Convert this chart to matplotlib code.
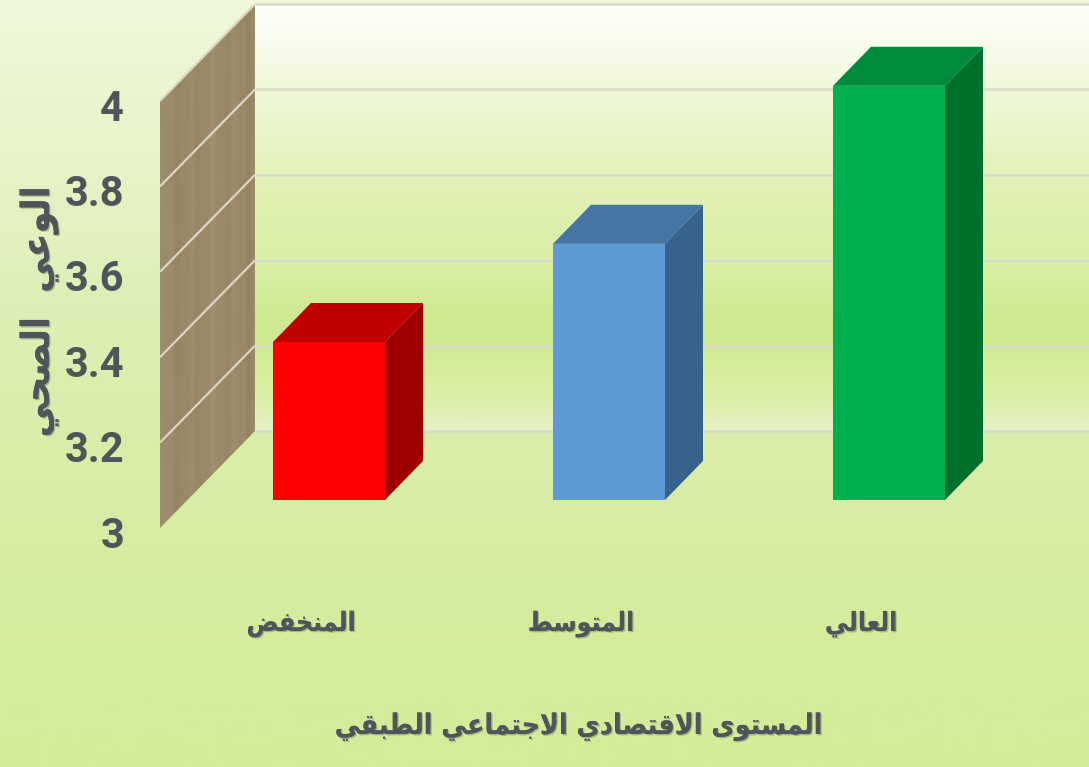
import numpy as np
import matplotlib
matplotlib.use("Agg")
import matplotlib.pyplot as plt
from matplotlib.colors import LinearSegmentedColormap
from matplotlib.patches import Polygon
from matplotlib import patheffects as pe

# ---- chart values ----
category_labels = ["المنخفض", "المتوسط", "العالي"]
awareness = [3.37, 3.60, 3.97]
bar_front = ["#fe0000", "#5b9ad5", "#00b04f"]
bar_top = ["#c00000", "#4575a5", "#008a3c"]
bar_side = ["#9e0000", "#36628b", "#00702f"]
tick_values = [3, 3.2, 3.4, 3.6, 3.8, 4]
tick_labels = ["3", "3.2", "3.4", "3.6", "3.8", "4"]
x_title = "المستوى الاقتصادي الاجتماعي الطبقي"
y_title = "الوعي  الصحي"

W, H = 1089, 767
PX_PER_UNIT = 427.0     # pixels per one unit of the value axis
PX_PER_CAT = 280.0      # pixels between neighbouring categories
FIRST_CAT_PX = 329.0    # pixel column of the first category
BASE_ROW = 500.0        # pixel row of value 3 on the bars' front plane

# Arabic shaping: isolated, final, initial, medial presentation forms
FORMS = {
    "ا": (0xFE8D, 0xFE8E, None, None), "ب": (0xFE8F, 0xFE90, 0xFE91, 0xFE92),
    "ت": (0xFE95, 0xFE96, 0xFE97, 0xFE98), "ج": (0xFE9D, 0xFE9E, 0xFE9F, 0xFEA0),
    "ح": (0xFEA1, 0xFEA2, 0xFEA3, 0xFEA4), "خ": (0xFEA5, 0xFEA6, 0xFEA7, 0xFEA8),
    "د": (0xFEA9, 0xFEAA, None, None), "س": (0xFEB1, 0xFEB2, 0xFEB3, 0xFEB4),
    "ص": (0xFEB9, 0xFEBA, 0xFEBB, 0xFEBC), "ض": (0xFEBD, 0xFEBE, 0xFEBF, 0xFEC0),
    "ط": (0xFEC1, 0xFEC2, 0xFEC3, 0xFEC4), "ع": (0xFEC9, 0xFECA, 0xFECB, 0xFECC),
    "ف": (0xFED1, 0xFED2, 0xFED3, 0xFED4), "ق": (0xFED5, 0xFED6, 0xFED7, 0xFED8),
    "ل": (0xFEDD, 0xFEDE, 0xFEDF, 0xFEE0), "م": (0xFEE1, 0xFEE2, 0xFEE3, 0xFEE4),
    "ن": (0xFEE5, 0xFEE6, 0xFEE7, 0xFEE8), "و": (0xFEED, 0xFEEE, None, None),
    "ى": (0xFEEF, 0xFEF0, None, None), "ي": (0xFEF1, 0xFEF2, 0xFEF3, 0xFEF4),
}


def shape_word(word):
    out = []
    i = 0
    joins_prev = False
    while i < len(word):
        ch = word[i]
        if ch == "ل" and i + 1 < len(word) and word[i + 1] == "ا":
            out.append(chr(0xFEFC if joins_prev else 0xFEFB))
            joins_prev = False
            i += 2
            continue
        iso, fin, ini, med = FORMS[ch]
        joins_next = ini is not None and i + 1 < len(word)
        if joins_prev and joins_next:
            code = med
        elif joins_prev:
            code = fin
        elif joins_next:
            code = ini
        else:
            code = iso
        out.append(chr(code))
        joins_prev = joins_next
        i += 1
    return "".join(out)


def shape(text):
    parts = [shape_word(w) if w else "" for w in text.split(" ")]
    return " ".join(parts)[::-1]


def cat_from_px(px):
    return (px - FIRST_CAT_PX) / PX_PER_CAT


def val_from_row(row):
    return 3 + (BASE_ROW - row) / PX_PER_UNIT


def reset_limits():
    ax.set_xlim(cat_from_px(0), cat_from_px(W))
    ax.set_ylim(val_from_row(H), val_from_row(0))


fig = plt.figure(figsize=(W / 100, H / 100), dpi=100)
ax = fig.add_axes([0, 0, 1, 1])
ax.axis("off")
reset_limits()
extent = (cat_from_px(0), cat_from_px(W), val_from_row(H), val_from_row(0))

# figure backdrop
back_cmap = LinearSegmentedColormap.from_list(
    "backdrop", [(0, "#f0f8dc"), (0.4, "#deefb5"), (0.75, "#d5ec9f"), (1, "#d2ec98")])
ax.imshow(np.linspace(1, 0, 256)[:, None], cmap=back_cmap, extent=extent,
          aspect="auto", origin="lower", zorder=0)

# depth of the box: wall front edge, wall back edge, bar depth
wall_x0, wall_x1 = cat_from_px(160), cat_from_px(255)
wall_front = val_from_row(528) - 3
wall_back = val_from_row(431) - 3
depth_x = 38 / PX_PER_CAT
depth_v = 39 / PX_PER_UNIT

# rear plane, brighter at the top with a saturated band low down
rear_cmap = LinearSegmentedColormap.from_list(
    "rear", [(0, "#e6f0c8"), (0.073, "#dcf0a8"), (0.2, "#cfeb92"), (0.26, "#cdea90"),
             (0.40, "#d9efa5"), (0.60, "#e3f1b8"), (0.80, "#f0f8da"), (1, "#fefffa")])
rear_extent = (wall_x1, cat_from_px(W), 3 + wall_back, 4 + wall_back)
ax.imshow(np.linspace(0, 1, 256)[:, None], cmap=rear_cmap, extent=rear_extent,
          aspect="auto", origin="lower", zorder=1)
reset_limits()

# woven texture of the side wall
ys, xs = np.mgrid[0:440, 0:95]
weave = (0.45 * np.sin(xs * 0.27) + 0.30 * np.sin(xs * 0.61 + 1.0)
         + 0.25 * np.sin(xs * 0.11 + 2.0) + 0.12 * np.sin(ys * 0.9 + xs * 0.5)
         + 0.10 * np.sin(ys * 0.05 + xs * 0.2))
wall_cmap = LinearSegmentedColormap.from_list("wall", ["#93835f", "#a19172"])
wall_poly = Polygon([(wall_x0, 3 + wall_front), (wall_x1, 3 + wall_back),
                     (wall_x1, 4 + wall_back), (wall_x0, 4 + wall_front)],
                    closed=True, transform=ax.transData, fc="none", ec="none")
ax.add_patch(wall_poly)
wall_img = ax.imshow(weave, cmap=wall_cmap, aspect="auto", origin="lower", zorder=2,
                     extent=(wall_x0, wall_x1, 3 + wall_front, 4 + wall_back))
wall_img.set_clip_path(wall_poly)
reset_limits()

# gridlines along the wall and across the rear plane
for v in tick_values:
    if v > 3:
        ax.plot([wall_x0, wall_x1], [v + wall_front, v + wall_back],
                color="#dbd6c4", lw=1.6, zorder=3, solid_capstyle="butt")
    ax.plot([wall_x1, cat_from_px(W)], [v + wall_back] * 2,
            color="#d8dcc8", lw=2.0, zorder=3, solid_capstyle="butt")

# value labels along the front edge of the wall
for v, lab in zip(tick_values, tick_labels):
    ax.text(cat_from_px(124), v + val_from_row(536) - 3, lab, ha="right", va="center",
            family="Roboto", weight="bold", fontsize=30, color="#50555a", zorder=6)

# three-sided bars
half = 0.2
for i, (v, cf, ct, cs) in enumerate(zip(awareness, bar_front, bar_top, bar_side)):
    ax.add_patch(Polygon([(i - half, v), (i + half, v), (i + half + depth_x, v + depth_v),
                          (i - half + depth_x, v + depth_v)], fc=ct, ec="none", zorder=4))
    ax.add_patch(Polygon([(i + half, 3), (i + half + depth_x, 3 + depth_v),
                          (i + half + depth_x, v + depth_v), (i + half, v)],
                         fc=cs, ec="none", zorder=4))
    ax.bar(i, v - 3, bottom=3, width=2 * half, color=cf, zorder=5)
reset_limits()

# Arabic labels with a soft shadow
shadow = [pe.withSimplePatchShadow(offset=(1, -1), shadow_rgbFace="#7c8270", alpha=0.5),
          pe.Normal()]
ar_font = dict(family="DejaVu Sans", stretch="condensed", weight="bold", color="#50555a",
               zorder=6, ha="center", va="center")
for i, lab in enumerate(category_labels):
    t = ax.text(i - 0.1, val_from_row(624), shape(lab), fontsize=19, **ar_font)
    t.set_path_effects(shadow)
t = ax.text(cat_from_px(579), val_from_row(727), shape(x_title), fontsize=20.4, **ar_font)
t.set_path_effects(shadow)
t = ax.text(cat_from_px(39), val_from_row(312), shape(y_title), fontsize=28,
            rotation=90, **ar_font)
t.set_path_effects(shadow)

fig.savefig("out.png", dpi=100)
